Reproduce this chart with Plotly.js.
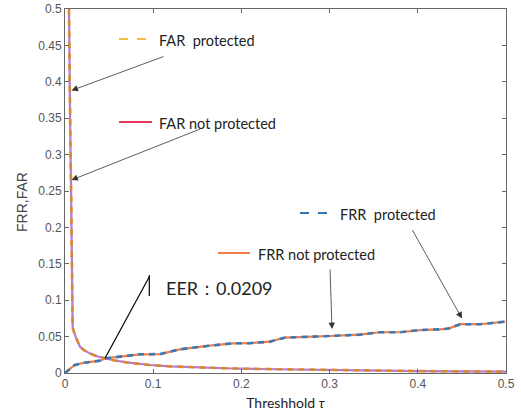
<!DOCTYPE html>
<html>
<head>
<meta charset="utf-8">
<script src="https://cdn.plot.ly/plotly-3.0.1.min.js"></script>
<style>html,body{margin:0;padding:0;background:#fff;}#chart{width:521px;height:418px;}</style>
</head>
<body>
<div id="chart"></div>
<script>
// Threshold values and rates
const farThreshold = [0.0045, 0.005, 0.006, 0.007, 0.008, 0.0087, 0.012, 0.017, 0.022, 0.028, 0.036, 0.045, 0.055, 0.07, 0.085, 0.096, 0.12, 0.153, 0.19, 0.221, 0.26, 0.3, 0.35, 0.4, 0.45, 0.5];
const farValues    = [0.5, 0.42, 0.33, 0.24, 0.15, 0.062, 0.05, 0.036, 0.031, 0.027, 0.023, 0.020, 0.0175, 0.0145, 0.0125, 0.011, 0.009, 0.0073, 0.0062, 0.0055, 0.0047, 0.0040, 0.0033, 0.0027, 0.0022, 0.0018];

const frrThreshold = [0, 0.005, 0.011, 0.021, 0.03, 0.040, 0.045, 0.057, 0.07, 0.085, 0.108, 0.118, 0.130, 0.164, 0.190, 0.21, 0.221, 0.232, 0.249, 0.266, 0.300, 0.334, 0.357, 0.380, 0.402, 0.425, 0.435, 0.448, 0.4705, 0.499];
const frrValues    = [0, 0.005, 0.011, 0.014, 0.0155, 0.017, 0.020, 0.0215, 0.023, 0.0257, 0.026, 0.029, 0.0325, 0.0375, 0.0408, 0.041, 0.0416, 0.043, 0.0485, 0.049, 0.0508, 0.0526, 0.056, 0.056, 0.059, 0.060, 0.061, 0.067, 0.067, 0.0705];

const legendNames = ["FAR  protected", "FAR not protected", "FRR  protected", "FRR not protected"];
const eerText = "EER\uFF1A0.0209";
const xTitle = "Threshhold <i>\u03C4</i>";
const yTitle = "FRR,FAR";

const X = px => (px - 65) / 882;
const Y = py => (373 - py) / 728;

const traces = [
  {x: farThreshold, y: farValues, mode: "lines", name: legendNames[1], line: {color: "#b57ad6", width: 2.2}},
  {x: farThreshold, y: farValues, mode: "lines", name: legendNames[0], line: {color: "#d98a2e", width: 2.6, dash: "6px,5px"}},
  {x: frrThreshold, y: frrValues, mode: "lines", name: legendNames[3], line: {color: "#f07d45", width: 2.2}},
  {x: frrThreshold, y: frrValues, mode: "lines", name: legendNames[2], line: {color: "#3b78b5", width: 2.6, dash: "6px,5px"}}
];

const textFont = {family: "Lato, 'Open Sans', sans-serif", size: 14.5, color: "#222"};
function label(px, py, t, size) {
  return {x: X(px), y: Y(py), xref: "x", yref: "y", text: t, showarrow: false, xanchor: "left", yanchor: "middle",
    font: Object.assign({}, textFont, size ? {size: size} : {})};
}
function arrow(sx, sy, tx, ty) {
  return {x: X(tx), y: Y(ty), xref: "x", yref: "y", ax: sx - tx, ay: sy - ty, text: "", showarrow: true,
    arrowhead: 2, arrowsize: 1.6, arrowwidth: 0.8, arrowcolor: "#333"};
}
function seg(x0, y0, x1, y1, color, width, dash) {
  return {type: "line", xref: "x", yref: "y", x0: X(x0), y0: Y(y0), x1: X(x1), y1: Y(y1),
    line: {color: color, width: width, dash: dash || "solid"}};
}

const layout = {
  width: 521, height: 418,
  margin: {l: 65, r: 15, t: 9, b: 45},
  paper_bgcolor: "#fff", plot_bgcolor: "#fff",
  showlegend: false,
  xaxis: {
    range: [0, 0.5], tickvals: [0, 0.1, 0.2, 0.3, 0.4, 0.5], ticktext: ["0", "0.1", "0.2", "0.3", "0.4", "0.5"],
    ticks: "inside", ticklen: 4, tickcolor: "#666", showline: true, linecolor: "#666", linewidth: 1, mirror: "allticks",
    showgrid: false, zeroline: false,
    tickfont: {family: "'Liberation Sans', Arial, sans-serif", size: 12, color: "#555"},
    title: {text: xTitle, font: {family: "Lato, 'Open Sans', sans-serif", size: 14, color: "#222"}, standoff: 7}
  },
  yaxis: {
    range: [0, 0.5], tickvals: [0, 0.05, 0.1, 0.15, 0.2, 0.25, 0.3, 0.35, 0.4, 0.45, 0.5],
    ticktext: ["0", "0.05", "0.1", "0.15", "0.2", "0.25", "0.3", "0.35", "0.4", "0.45", "0.5"],
    ticks: "inside", ticklen: 4, tickcolor: "#666", showline: true, linecolor: "#666", linewidth: 1, mirror: "allticks",
    showgrid: false, zeroline: false,
    tickfont: {family: "'Liberation Sans', Arial, sans-serif", size: 12, color: "#555"}
  },
  shapes: [
    seg(119, 39, 152, 39, "#f5c040", 2, "dash"),
    seg(119, 122, 152, 122, "#e8365a", 2),
    seg(300, 213, 333, 213, "#2e75b6", 2, "dash"),
    seg(218, 253, 250, 253, "#f07d45", 2),
    seg(105, 358.3, 149.3, 276.7, "#000", 1.2),
    seg(149.3, 275, 149.3, 296, "#000", 1.2)
  ],
  annotations: [
    label(157, 40, legendNames[0]),
    label(157, 123, legendNames[1]),
    label(338, 214, legendNames[2]),
    label(256, 254, legendNames[3]),
    label(164, 288, eerText, 18),
    {x: (22 - 65) / 441, y: Y(202), xref: "paper", yref: "y", text: yTitle, textangle: -90, showarrow: false,
      xanchor: "center", yanchor: "middle", font: {family: "'Liberation Sans', Arial, sans-serif", size: 14, color: "#444"}},
    arrow(165, 56, 71.5, 90.5),
    arrow(201.5, 128.5, 71.5, 180),
    arrow(330, 268, 332, 329),
    arrow(411.5, 228.5, 462, 318.5)
  ]
};

Plotly.newPlot("chart", traces, layout, {staticPlot: true, displayModeBar: false});
</script>
</body>
</html>
